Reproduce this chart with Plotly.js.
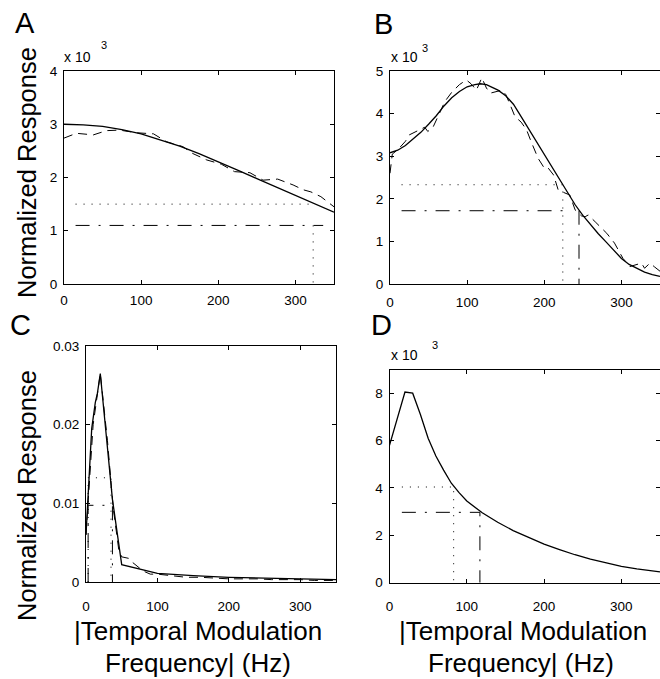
<!DOCTYPE html>
<html><head><meta charset="utf-8">
<script src="https://cdn.plot.ly/plotly-3.0.1.min.js"></script>
<style>html,body{margin:0;padding:0;background:#fff}#chart{width:660px;height:679px}</style>
</head><body><div id="chart"></div>
<script>
// ---------- Panel A (values x 10^-3) ----------
const freqFitA = [0,25,50,75,100,125,150,175,200,225,250,275,300,325,350];
const fitA     = [3.0,2.99,2.96,2.9,2.82,2.71,2.59,2.45,2.3,2.14,1.98,1.82,1.66,1.5,1.35];
const freqDataA = [0,16,38,55,72,94,116,133,154,167,185,204,221,241,258,277,297,310,320,333,350];
const dataA     = [2.74,2.83,2.80,2.88,2.89,2.84,2.82,2.67,2.58,2.45,2.33,2.25,2.11,2.09,1.95,1.97,1.86,1.77,1.73,1.64,1.45];
const halfA_x = [15,325,null,323,323];
const halfA_y = [1.5,1.5,null,1.1,0];
const invEA_x = [15,336];
const invEA_y = [1.1,1.1];

// ---------- Panel B (values x 10^-3) ----------
const freqFitB = [0,10,20,30,40,50,60,70,80,90,100,110,117,125,140,150,160,170,180,190,200,210,220,230,240,250,260,270,280,290,300,310,320,330,340,350];
const fitB     = [3.08,3.14,3.25,3.4,3.56,3.75,3.95,4.18,4.37,4.52,4.63,4.68,4.7,4.68,4.55,4.42,4.22,3.93,3.63,3.34,3.05,2.75,2.45,2.14,1.86,1.61,1.39,1.18,0.99,0.79,0.6,0.46,0.36,0.28,0.22,0.18];
const freqDataB = [0,3,10,20,25,35,45,49,56,65,71,80,90,99,105,112,119,125,130,145,150,155,162,170,177,183,192,199,203,212,218,225,233,240,248,253,257,266,275,281,291,296,302,311,318,326,330,337,343,350];
const dataB     = [2.6,3.05,3.15,3.35,3.5,3.6,3.68,3.58,3.69,4.04,4.28,4.5,4.68,4.79,4.7,4.55,4.84,4.6,4.48,4.55,4.45,4.24,3.93,3.8,3.62,3.34,2.95,2.75,2.77,2.56,2.21,2.15,2.09,1.74,1.6,1.58,1.62,1.46,1.3,1.19,0.96,0.8,0.6,0.41,0.45,0.49,0.37,0.49,0.4,0.3];
const halfB_x = [15,224,224];
const halfB_y = [2.33,2.33,0];
const invEB_x = [15,225,null,245,245];
const invEB_y = [1.72,1.72,null,1.72,0];

// ---------- Panel C ----------
const freqFitC = [0,8,13,16,20,37,50,100,150,200,250,300,350];
const fitC     = [0.006,0.0195,0.0228,0.024,0.0265,0.0105,0.0022,0.0011,0.0008,0.0006,0.0005,0.0004,0.0003];
const freqDataC = [0,10,20,30,38,42,46,50,60,65,80,90,100,120,140,160,180,200,220,240,260,280,300,320,350];
const dataC     = [0.006,0.02,0.0265,0.018,0.0095,0.007,0.004,0.0032,0.003,0.0025,0.0014,0.001,0.001,0.0008,0.0006,0.0006,0.0005,0.0004,0.0004,0.0004,0.0003,0.0003,0.0003,0.0002,0.0002];
const halfC_x = [3,3,35,35];
const halfC_y = [0,0.01325,0.01325,0];
const invEC_x = [3,3,37,37];
const invEC_y = [0,0.00975,0.00975,0];

// ---------- Panel D (values x 10^-3) ----------
const freqFitD = [0,10,20,30,40,50,60,70,80,90,100,120,140,160,180,200,220,240,260,280,300,320,350];
const fitD     = [5.8,6.9,8.05,8.0,7.1,6.1,5.35,4.75,4.2,3.8,3.45,2.95,2.55,2.2,1.9,1.63,1.4,1.18,1.0,0.83,0.69,0.58,0.46];
const halfD_x = [16,83,83];
const halfD_y = [4.04,4.04,0];
const invED_x = [16,117,117];
const invED_y = [2.97,2.97,0];

const freqTicks = [0,100,200,300];

// ---------- styling ----------
const W = 660, H = 679;
const px = p => p / W;
const py = p => 1 - p / H;
const FONT = '"Liberation Sans", Arial, Helvetica, sans-serif';
const SOLID = {color:'#000', width:1.3};
const DASHED = {color:'#000', width:1, dash:'9px,6px'};
const DOTTED = {color:'#000', width:1, dash:'1px,7px'};
const DASHDOT = {color:'#000', width:1, dash:'14px,9px,2px,9px'};

function tr(x, y, line, xa, ya) {
  return {x:x, y:y, type:'scatter', mode:'lines', line:line, xaxis:xa, yaxis:ya, hoverinfo:'skip', connectgaps:false};
}
const traces = [
  tr(halfA_x, halfA_y, DOTTED, 'x', 'y'),
  tr(invEA_x, invEA_y, DASHDOT, 'x', 'y'),
  tr(freqDataA, dataA, DASHED, 'x', 'y'),
  tr(freqFitA, fitA, SOLID, 'x', 'y'),

  tr(halfB_x, halfB_y, DOTTED, 'x2', 'y2'),
  tr(invEB_x, invEB_y, DASHDOT, 'x2', 'y2'),
  tr(freqDataB, dataB, DASHED, 'x2', 'y2'),
  tr(freqFitB, fitB, SOLID, 'x2', 'y2'),

  tr(halfC_x, halfC_y, DOTTED, 'x3', 'y3'),
  tr(invEC_x, invEC_y, DASHDOT, 'x3', 'y3'),
  tr(freqDataC, dataC, DASHED, 'x3', 'y3'),
  tr(freqFitC, fitC, SOLID, 'x3', 'y3'),

  tr(halfD_x, halfD_y, DOTTED, 'x4', 'y4'),
  tr(invED_x, invED_y, DASHDOT, 'x4', 'y4'),
  tr(freqFitD, fitD, SOLID, 'x4', 'y4')
];

function axis(extra) {
  return Object.assign({
    showline:true, linecolor:'#000', linewidth:1, mirror:'ticks',
    ticks:'inside', ticklen:4, tickcolor:'#000', tickwidth:1,
    showgrid:false, zeroline:false, fixedrange:true,
    tickfont:{family:FONT, size:13.5, color:'#000'}
  }, extra);
}
function xdom(l, r) { return [px(l), px(r)]; }
function ydom(top, bottom) { return [py(bottom), py(top)]; }

const layout = {
  width:W, height:H, margin:{l:0, r:0, t:0, b:0},
  paper_bgcolor:'#fff', plot_bgcolor:'#fff', showlegend:false,
  font:{family:FONT, color:'#000'},
  xaxis:  axis({domain:xdom(64,334), anchor:'y',  range:[0,350], tickvals:freqTicks, ticklabelstandoff:4}),
  yaxis:  axis({domain:ydom(71,284), anchor:'x',  range:[0,4], tickvals:[0,1,2,3,4], ticklabelstandoff:3}),
  xaxis2: axis({domain:xdom(390,660), anchor:'y2', range:[0,350], tickvals:freqTicks, ticklabelstandoff:6}),
  yaxis2: axis({domain:ydom(71,284), anchor:'x2', range:[0,5], tickvals:[0,1,2,3,4,5], ticklabelstandoff:3}),
  xaxis3: axis({domain:xdom(86,336), anchor:'y3', range:[0,350], tickvals:freqTicks, ticklabelstandoff:12}),
  yaxis3: axis({domain:ydom(346,582), anchor:'x3', range:[0,0.03], tickvals:[0,0.01,0.02,0.03], ticktext:['0','0.01','0.02','0.03'], ticklabelstandoff:3}),
  xaxis4: axis({domain:xdom(389.5,660), anchor:'y4', range:[0,350], tickvals:freqTicks, ticklabelstandoff:11}),
  yaxis4: axis({domain:ydom(369.5,582.7), anchor:'x4', range:[0,9], tickvals:[0,2,4,6,8], ticklabelstandoff:3}),
  annotations: []
};

function ann(text, x, y, size, opts) {
  return Object.assign({text:text, x:px(x), y:py(y), xref:'paper', yref:'paper', showarrow:false,
    xanchor:'center', yanchor:'middle', font:{family:FONT, size:size, color:'#000'}}, opts || {});
}
layout.annotations.push(
  ann('A', 25, 23, 29), ann('B', 383, 24, 29), ann('C', 20, 325, 29), ann('D', 382, 325, 29),
  ann('Normalized Response', 27, 173, 25.5, {textangle:-90}),
  ann('Normalized Response', 27, 496, 25.5, {textangle:-90}),
  ann('|Temporal Modulation', 198, 631, 26), ann('Frequency| (Hz)', 198, 663, 26),
  ann('|Temporal Modulation', 523, 631, 26), ann('Frequency| (Hz)', 521, 663, 26),
  ann('x 10', 62, 57, 14, {xanchor:'left'}), ann('3', 104, 45, 11, {xanchor:'center'}),
  ann('x 10', 389, 57, 14, {xanchor:'left'}), ann('3', 425, 48, 11, {xanchor:'center'}),
  ann('x 10', 389, 355, 14, {xanchor:'left'}), ann('3', 435, 345, 11, {xanchor:'center'})
);

Plotly.newPlot('chart', traces, layout, {staticPlot:true, displayModeBar:false});
</script>
</body></html>
